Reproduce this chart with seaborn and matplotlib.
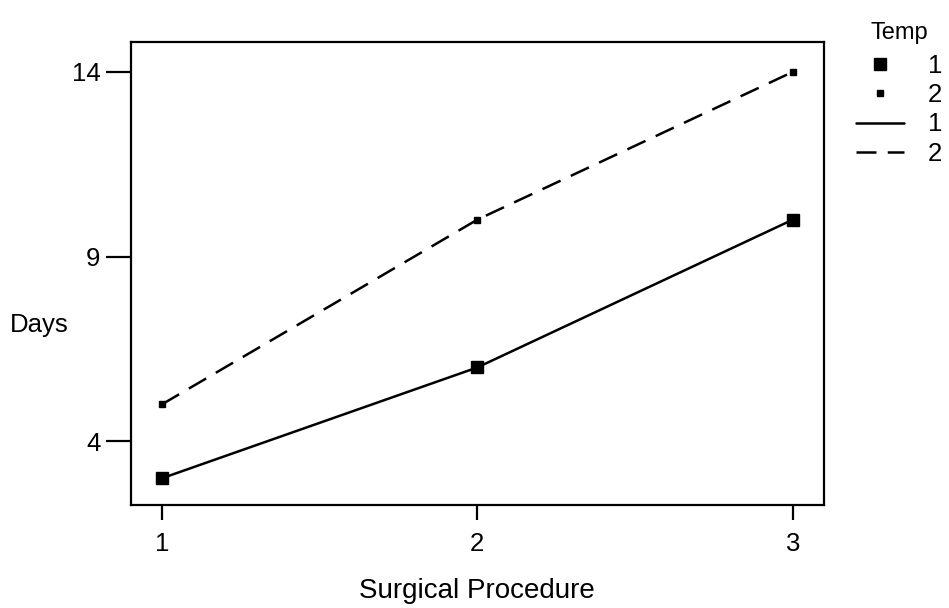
import matplotlib
matplotlib.use("Agg")
import matplotlib.pyplot as plt
from matplotlib.lines import Line2D
import seaborn as sns
import pandas as pd

procedure = [1, 2, 3]
days_temp1 = [3, 6, 10]
days_temp2 = [5, 10, 14]
y_ticks = [4, 9, 14]

df = pd.DataFrame({
    "Surgical Procedure": procedure * 2,
    "Days": days_temp1 + days_temp2,
    "Temp": ["1"] * 3 + ["2"] * 3,
})

sns.set_theme(style="ticks")
plt.rcParams["font.family"] = ["Liberation Sans", "DejaVu Sans"]
plt.rcParams["text.color"] = "black"
plt.rcParams["axes.labelcolor"] = "black"
plt.rcParams["xtick.color"] = "black"
plt.rcParams["ytick.color"] = "black"

LW = 1.8
DASH = (8, 4.5)

fig = plt.figure(figsize=(9.49, 6.08), dpi=100)
ax = fig.add_axes([0.138, 0.169, 0.730, 0.762])

sns.lineplot(
    data=df, x="Surgical Procedure", y="Days", style="Temp",
    color="black", linewidth=LW,
    dashes={"1": "", "2": DASH},
    legend=False, ax=ax,
)
# point markers drawn separately so they can differ in size
ax.plot(procedure, days_temp1, "s", color="black", markersize=8.5)
ax.plot(procedure, days_temp2, "s", color="black", markersize=4)

ax.set_xlim(0.902, 3.098)
ax.set_ylim(2.27, 14.81)
ax.set_xticks(procedure)
ax.set_yticks(y_ticks)
ax.tick_params(axis="y", length=18, width=1.6, labelsize=18.5, pad=4)
ax.tick_params(axis="x", length=11, width=1.6, labelsize=18.5, pad=8)
for s in ax.spines.values():
    s.set_linewidth(1.6)
    s.set_color("black")
    s.set_visible(True)

ax.set_xlabel("Surgical Procedure", fontsize=20, labelpad=16)
ax.set_ylabel("")
fig.text(0.0105, 0.465, "Days", fontsize=18.5, ha="left", va="center")

handles = [
    Line2D([], [], linestyle="none", marker="s", color="black", markersize=8),
    Line2D([], [], linestyle="none", marker="s", color="black", markersize=4),
    Line2D([], [], linestyle="-", color="black", linewidth=LW),
    Line2D([], [], linestyle=(0, DASH), color="black", linewidth=LW),
]
leg = fig.legend(
    handles, ["1", "2", "1", "2"], title="Temp",
    loc="upper left", bbox_to_anchor=(0.902, 0.963),
    frameon=False, fontsize=18.5, title_fontsize=17,
    borderpad=0, borderaxespad=0,
    handlelength=1.85, handletextpad=0.95, labelspacing=0.2,
)
leg._legend_box.sep = 7

fig.savefig("out.png", dpi=100)
